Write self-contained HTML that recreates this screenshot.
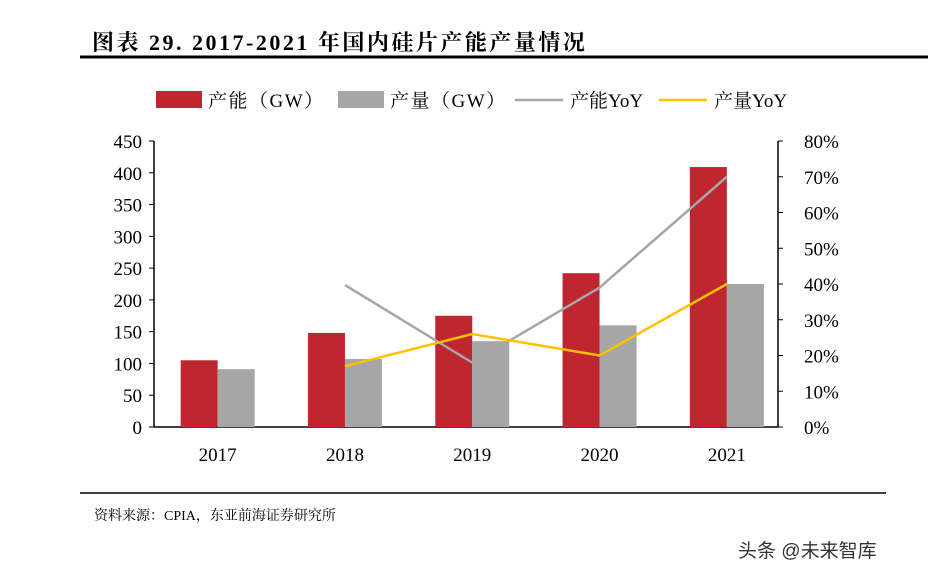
<!DOCTYPE html>
<html><head><meta charset="utf-8"><style>
body{margin:0;width:928px;height:581px;background:#fff;overflow:hidden;font-family:"Liberation Serif","Noto Serif CJK SC",serif;}
svg{position:absolute;left:0;top:0}
</style></head><body>
<svg width="928" height="581">
<text x="92" y="50" font-size="22" font-weight="bold" letter-spacing="2.5" fill="#000">图表 29. 2017-2021 年国内硅片产能产量情况</text>
<line x1="80" y1="57" x2="928" y2="57" stroke="#000" stroke-width="3"/>
<g font-size="19">
<rect x="156" y="91" width="46" height="17" fill="#c0262f"/>
<text x="208" y="107" letter-spacing="1.5">产能（GW）</text>
<rect x="338" y="91" width="46" height="17" fill="#a6a6a6"/>
<text x="390" y="107" letter-spacing="1.5">产量（GW）</text>
<line x1="515" y1="100" x2="563" y2="100" stroke="#a6a6a6" stroke-width="2.5"/>
<text x="570" y="107">产能YoY</text>
<line x1="659" y1="100" x2="707" y2="100" stroke="#ffc000" stroke-width="2.5"/>
<text x="714" y="107">产量YoY</text>
</g>
<g id="plot"></g>
<line x1="80" y1="493" x2="886" y2="493" stroke="#000" stroke-width="1.5"/>
<text x="94" y="520" font-size="14">资料来源：CPIA，东亚前海证券研究所</text>
<text x="738" y="557" font-size="19" fill="#333" font-family="Liberation Sans,'Noto Sans CJK SC',sans-serif">头条 @未来智库</text>
</svg>
<script>
const years=["2017","2018","2019","2020","2021"];
const capacity=[105,148,175,242,409];
const output=[91,107,135,160,225];
const capYoY=[null,39.7,18,39,70];
const outYoY=[null,17,26,20,40];
const leftTicks=[0,50,100,150,200,250,300,350,400,450];
const rightTicks=[0,10,20,30,40,50,60,70,80];
const NS="http://www.w3.org/2000/svg";
const g=document.getElementById('plot');
const X0=154,X1=778,Y0=427,Y1=141;
const step=127.3;
const xc=i=>X0+step*(i+0.5);
const yl=v=>Y0-(v/450)*(Y0-Y1);
const yr=v=>Y0-(v/80)*(Y0-Y1);
function mk(t,a){const e=document.createElementNS(NS,t);for(const k in a)e.setAttribute(k,a[k]);g.appendChild(e);return e;}
let e=mk('line',{x1:X0,y1:Y0,x2:X1,y2:Y0,stroke:'#000','stroke-width':1.5});


e=mk('line',{x1:X0,y1:Y1,x2:X0,y2:Y0,stroke:'#000','stroke-width':1.5});


e=mk('line',{x1:X1,y1:Y1,x2:X1,y2:Y0,stroke:'#000','stroke-width':1.5});


leftTicks.forEach(v=>{
 mk('line',{x1:X0-5,y1:yl(v),x2:X0,y2:yl(v),stroke:'#000'});
 const t=mk('text',{x:X0-12,y:yl(v)+7,'font-size':19,'text-anchor':'end'});t.textContent=v;
 
 
});
rightTicks.forEach(v=>{
 mk('line',{x1:X1,y1:yr(v),x2:X1+5,y2:yr(v),stroke:'#000'});
 const t=mk('text',{x:X1+26,y:yr(v)+7,'font-size':19});t.textContent=v+'%';
 
 
});
const bw=37;
years.forEach((yv,i)=>{
 let r=mk('rect',{x:xc(i)-bw,y:yl(capacity[i]),width:bw,height:Y0-yl(capacity[i]),fill:'#c0262f'});
 
 
 r=mk('rect',{x:xc(i),y:yl(output[i]),width:bw,height:Y0-yl(output[i]),fill:'#a6a6a6'});
 
 
 const t=mk('text',{x:xc(i),y:Y0+34,'font-size':19,'text-anchor':'middle'});t.textContent=yv;
 
 
});
function line(arr,col,name){
 const pts=arr.map((v,i)=>v==null?null:xc(i)+','+yr(v)).filter(p=>p).join(' ');
 const p=mk('polyline',{points:pts,fill:'none',stroke:col,'stroke-width':2.5});
 
 
}
line(capYoY,'#a6a6a6','capacity-yoy-line');
line(outYoY,'#ffc000','output-yoy-line');
</script>
</body></html>
